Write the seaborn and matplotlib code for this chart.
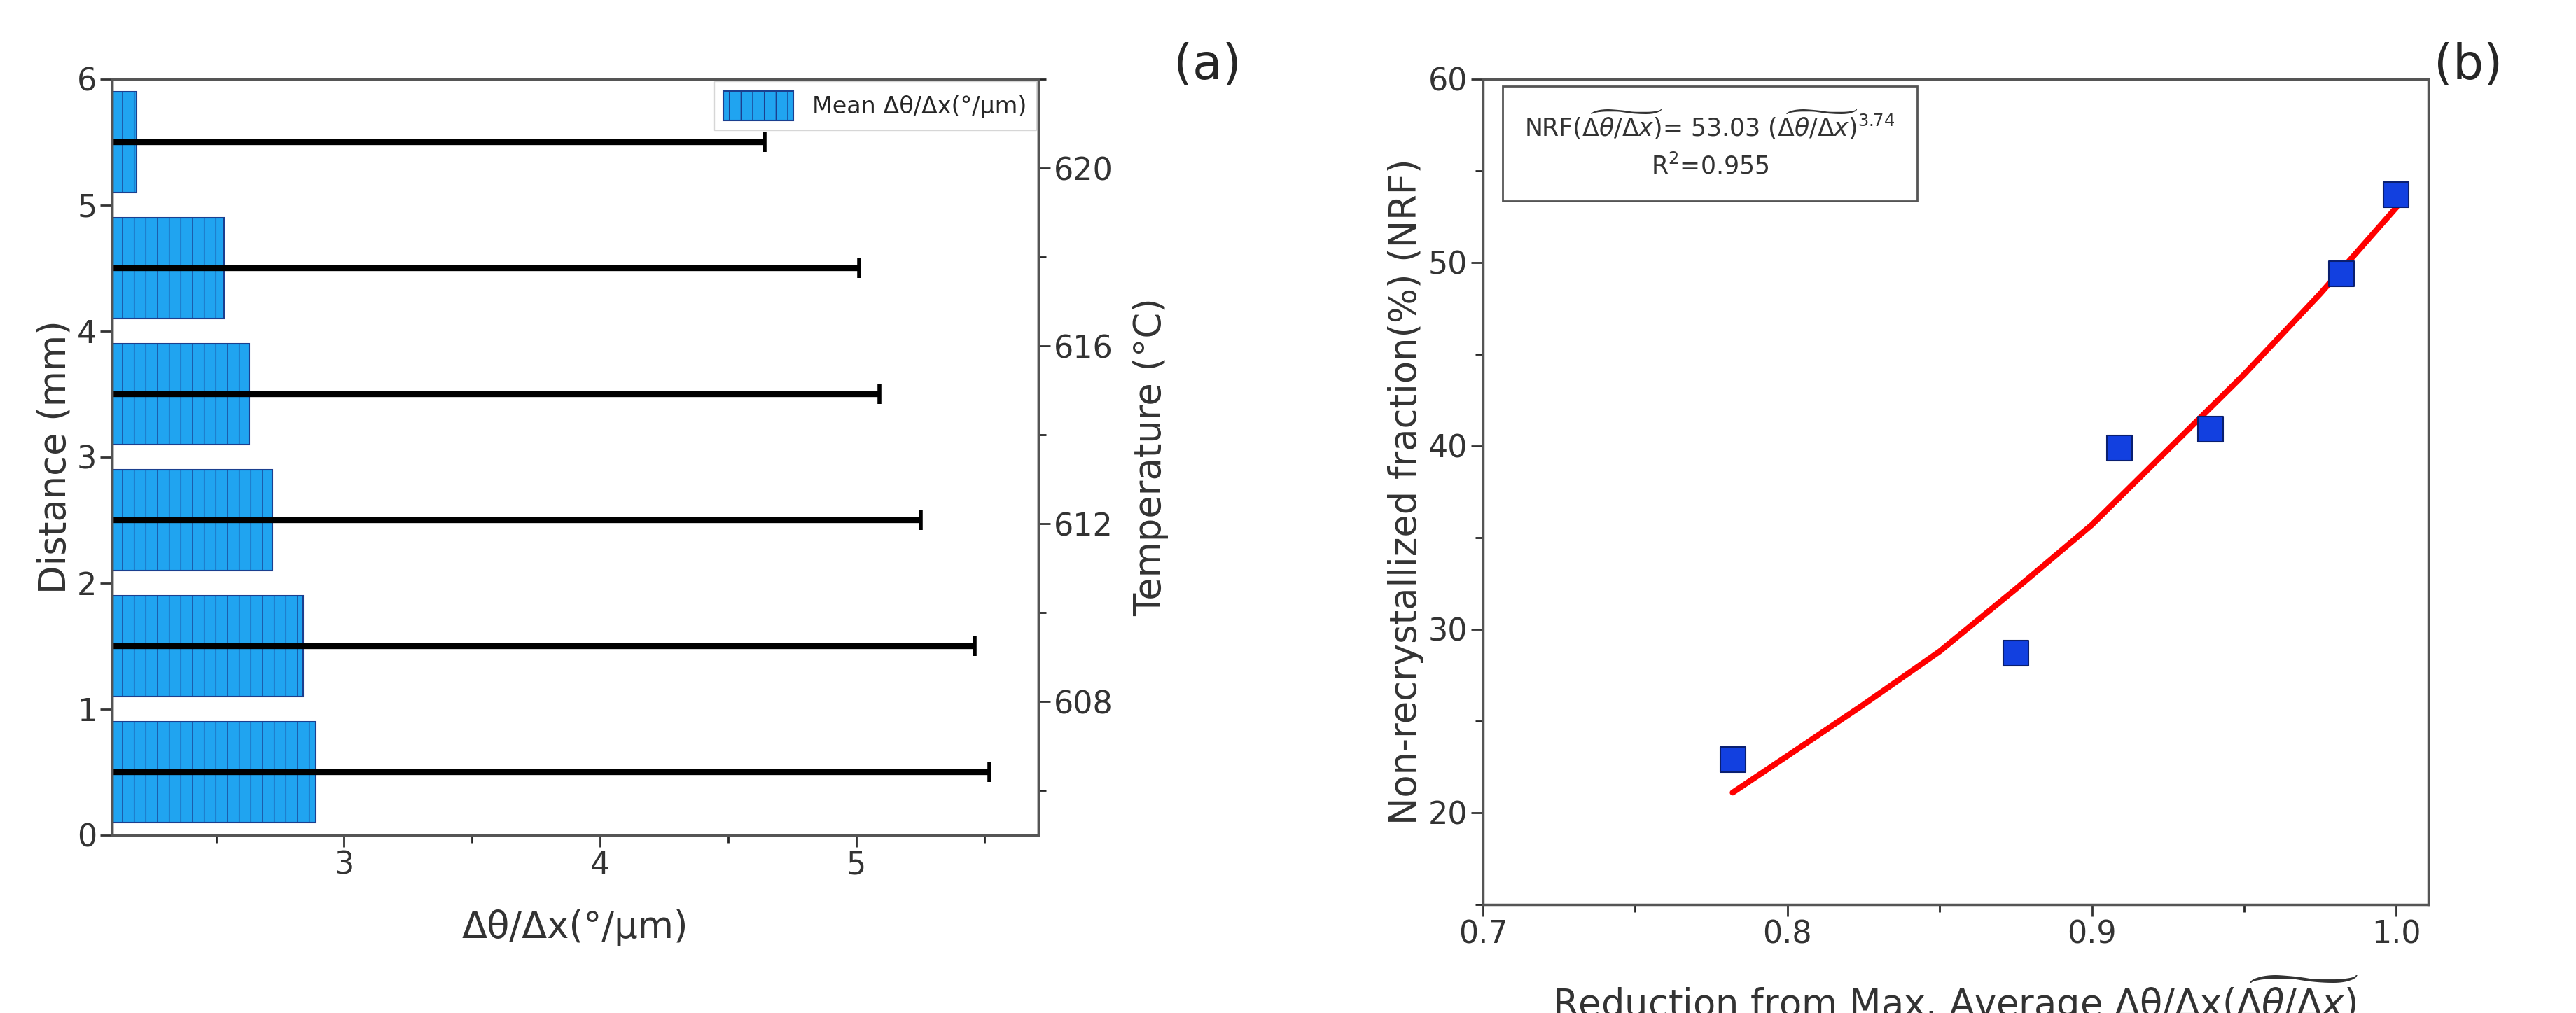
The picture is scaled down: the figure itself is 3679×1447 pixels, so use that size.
import numpy as np
import pandas as pd
import matplotlib.pyplot as plt
import seaborn as sns
from matplotlib.ticker import MultipleLocator

# Panel (a): mean misorientation gradient per distance bin
distance = [0.5, 1.5, 2.5, 3.5, 4.5, 5.5]
mean_grad = [2.89, 2.84, 2.72, 2.63, 2.53, 2.19]
err_upper = [5.52, 5.46, 5.25, 5.09, 5.01, 4.64]

# Panel (b): NRF vs reduction
reduction = [0.782, 0.875, 0.909, 0.939, 0.982, 1.0]
nrf = [22.9, 28.7, 39.9, 40.9, 49.4, 53.7]
fit_x = [0.782, 0.80, 0.825, 0.85, 0.875, 0.90, 0.925, 0.95, 0.975, 1.0]
fit_y = [21.1, 23.1, 25.9, 28.8, 32.2, 35.7, 39.8, 43.9, 48.3, 53.0]

plt.rcParams['font.family'] = 'Lato'
sns.set_style('ticks')
plt.rcParams['hatch.color'] = '#7fd0ff'
plt.rcParams['hatch.linewidth'] = 1.0

fig = plt.figure(figsize=(36.79, 14.47), dpi=100)
W, H = 3679, 1447
ax1 = fig.add_axes([160 / W, 1 - 1193 / H, (1483 - 160) / W, (1193 - 113) / H])
ax2 = fig.add_axes([2118 / W, 1 - 1292 / H, (3468 - 2118) / W, (1292 - 113) / H])

# ---- panel (a)
df_a = pd.DataFrame({'Distance': distance, 'Mean': mean_grad, 'Upper': err_upper})
xerr = np.array(err_upper) - np.array(mean_grad)
ax1.barh(df_a['Distance'], df_a['Mean'], height=0.8, color='#20a4f0',
         edgecolor='#1b3f8f', linewidth=1.5, hatch='|', label='Mean Δθ/Δx(°/μm)')
ax1.errorbar(df_a['Mean'], df_a['Distance'], xerr=xerr, fmt='none', ecolor='black',
             elinewidth=6, capsize=10, capthick=4)
ax1.set_xlim(2.094, 5.71)
ax1.set_ylim(0, 6)
ax1.xaxis.set_major_locator(MultipleLocator(1))
ax1.xaxis.set_minor_locator(MultipleLocator(0.5))
ax1.yaxis.set_major_locator(MultipleLocator(1))
ax1.set_xlabel('Δθ/Δx(°/μm)', fontsize=38, color='#333333', labelpad=30)
ax1.set_ylabel('Distance (mm)', fontsize=38, color='#333333')
ax1.tick_params(axis='both', labelsize=32, width=2, length=12, colors='#333333')
ax1.tick_params(which='minor', width=2, length=8)
leg = ax1.legend(loc='upper right', fontsize=24, frameon=True, fancybox=False,
                 borderaxespad=0.1, handlelength=3, handleheight=1.6)
leg.get_frame().set_edgecolor('#cccccc')

ax1t = ax1.twinx()
ax1t.set_ylim(605, 622)
ax1t.yaxis.set_major_locator(MultipleLocator(4))
ax1t.yaxis.set_minor_locator(MultipleLocator(2))
ax1t.set_ylabel('Temperature (°C)', fontsize=38, color='#333333', labelpad=20)
ax1t.tick_params(axis='y', labelsize=32, width=2, length=12, colors='#333333')
ax1t.tick_params(which='minor', width=2, length=8)
for a in (ax1, ax1t):
    for s in a.spines.values():
        s.set_linewidth(2.5)
        s.set_color('#555555')
fig.text(1724 / W, 1 - 94 / H, '(a)', fontsize=50, ha='center', va='center')

# ---- panel (b)
sns.lineplot(x=fit_x, y=fit_y, ax=ax2, color='red', linewidth=6)
sns.scatterplot(x=reduction, y=nrf, ax=ax2, marker='s', s=650, color='#1240e0',
                edgecolor='#0a1f70', linewidth=1.5, zorder=5)
ax2.set_xlim(0.7, 1.0105)
ax2.set_ylim(15, 60)
ax2.xaxis.set_major_locator(MultipleLocator(0.1))
ax2.xaxis.set_minor_locator(MultipleLocator(0.05))
ax2.yaxis.set_major_locator(MultipleLocator(10))
ax2.yaxis.set_minor_locator(MultipleLocator(5))
ax2.xaxis.set_major_formatter(plt.FormatStrFormatter('%.1f'))
ax2.set_xlabel(r'Reduction from Max. Average Δθ/Δx($\widetilde{\Delta\theta/\Delta x}$)',
               fontsize=38, color='#333333', labelpad=25)
ax2.set_ylabel('Non-recrystallized fraction(%) (NRF)', fontsize=38, color='#333333')
ax2.tick_params(axis='both', labelsize=32, width=2, length=12, colors='#333333')
ax2.tick_params(which='minor', width=2, length=8)
for s in ax2.spines.values():
    s.set_linewidth(2.5)
    s.set_color('#555555')
ax2.text(0.24, 0.965,
         r'NRF($\widetilde{\Delta\theta/\Delta x}$)= 53.03 ($\widetilde{\Delta\theta/\Delta x}$)$^{3.74}$'
         '\n' r'R$^2$=0.955',
         transform=ax2.transAxes, ha='center', va='top', fontsize=25, color='#333333',
         linespacing=1.6,
         bbox=dict(boxstyle='square,pad=0.9', facecolor='white', edgecolor='#555555', linewidth=2))
fig.text(3525 / W, 1 - 94 / H, '(b)', fontsize=50, ha='center', va='center')

fig.savefig('out.png', dpi=100, facecolor='white')
